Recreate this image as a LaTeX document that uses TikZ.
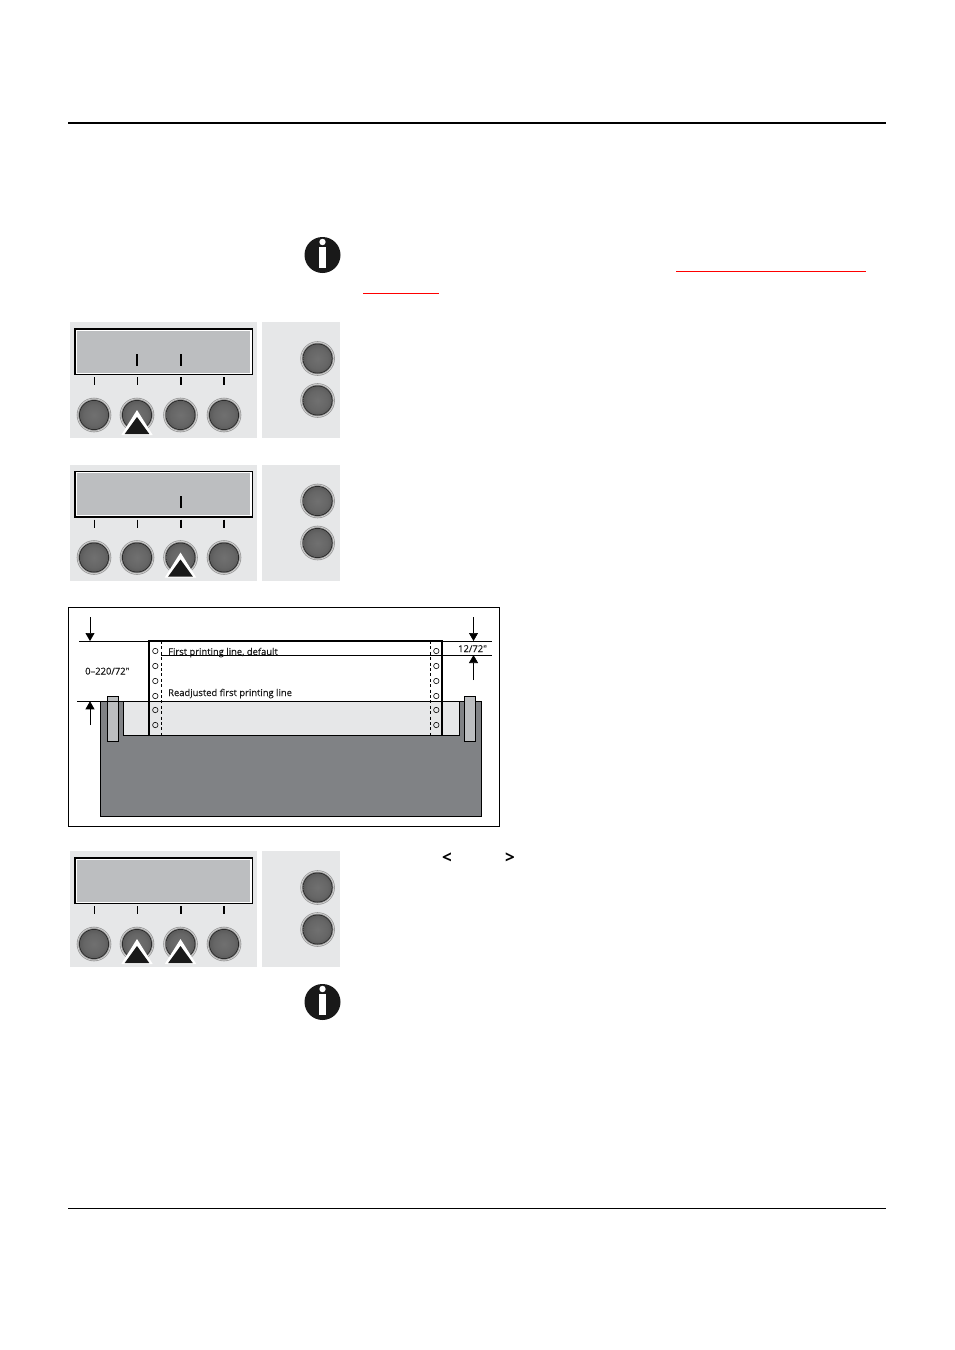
\documentclass[tikz,border=0pt]{standalone}
\usepackage{fontspec}
\setmainfont{Open Sans}
\newfontface\figfont[FakeBold=0.25]{Open Sans}
\usetikzlibrary{arrows.meta}
\definecolor{panelbg}{HTML}{E6E7E8}
\definecolor{lcdgray}{HTML}{BCBEC0}
\definecolor{bodygray}{HTML}{808285}
\definecolor{clampgray}{HTML}{BCBEC0}
\tikzset{
  x=1pt,y=-1pt,
  panelbox/.style={fill=panelbg,draw=none},
  dimarrow/.style={-{Triangle[length=8pt,width=9pt]},line width=0.7pt},
  thinline/.style={line width=0.7pt},
  paperedge/.style={line width=1.4pt},
  difftext/.style={font=\figfont\fontsize{9.4}{11}\selectfont,inner sep=0pt,anchor=base west,text=black!90},
}
\pgfdeclareradialshading{keyface}{\pgfpoint{0pt}{0pt}}{
  color(0bp)=(black!56); color(18bp)=(black!60); color(32bp)=(black!68); color(43bp)=(black!78); color(50bp)=(black!88)}
\newcommand{\keybtn}[2]{%
  \fill[black!40] (#1,#2) circle (17.3);
  \draw[black!12,line width=0.5pt] (#1,#2) circle (16.2);
  \fill[black!85] (#1,#2) circle (15);
  \shade[shading=keyface] (#1,#2) circle (14.2);
}
\newcommand{\pointer}[2]{%
  \fill[white] (#1,#2-24) -- (#1+15.7,#2+1) -- (#1-15.7,#2+1) -- cycle;
  \fill[black!90] (#1,#2-17) -- (#1+12.3,#2) -- (#1-12.3,#2) -- cycle;
}
\newcommand{\panel}[1]{%
  \fill[panelbox] (70,#1) rectangle (257,#1+116);
  \fill[panelbox] (262,#1) rectangle (340,#1+116);
  \fill[black] (74,#1+6) rectangle (252.7,#1+53);
  \fill[white] (75.5,#1+7.5) rectangle (251.7,#1+51.5);
  \fill[lcdgray] (76.5,#1+8.5) rectangle (250,#1+50.5);
  \draw[line width=0.7pt] (94,#1+55) -- (94,#1+63);
  \draw[line width=0.7pt] (137,#1+55) -- (137,#1+63);
  \draw[line width=1.2pt] (181,#1+55) -- (181,#1+63);
  \draw[line width=1.2pt] (224,#1+55) -- (224,#1+63);
  \keybtn{94}{#1+93}\keybtn{137}{#1+93}\keybtn{180.5}{#1+93}\keybtn{224}{#1+93}
  \keybtn{317.6}{#1+36.5}\keybtn{317.6}{#1+78.5}
}
\newcommand{\infoicon}[1]{%
  \fill[black!90] (322.5,#1) circle (18);
  \fill[white] (319.4,#1-8) rectangle (325.6,#1+13);
  \fill[white] (322.5,#1-13) circle (3.2);
}
\begin{document}
\begin{tikzpicture}
\useasboundingbox (0,0) rectangle (954,1350);
\fill[white] (0,0) rectangle (954,1350);

% page rules
\coordinate (topL) at (68,123); \coordinate (topR) at (886,123);
\coordinate (botL) at (68,1208.5); \coordinate (botR) at (886,1208.5);
\draw[line width=1.7pt] (topL) -- (topR);
\draw[line width=0.8pt] (botL) -- (botR);

% note icons and link underlines
\infoicon{255}
\infoicon{1002}
\coordinate (uA) at (676,271); \coordinate (uB) at (866,271);
\coordinate (uC) at (363,293); \coordinate (uD) at (439,293);
\draw[red,line width=1pt] (uA) -- (uB);
\draw[red,line width=1pt] (uC) -- (uD);

% panel 1
\panel{322}
\draw[line width=1.2pt] (137,354) -- (137,366);
\draw[line width=1.2pt] (181,354) -- (181,366);
\pointer{137}{434}

% panel 2
\panel{464.5}
\draw[line width=1.2pt] (181,496) -- (181,508);
\pointer{180.5}{576.5}

% panel 3
\panel{851}
\pointer{137}{963}
\pointer{180.5}{963}

% figure frame
\draw[line width=0.8pt] (68.3,607.3) rectangle (499.3,826.6);
\fill[bodygray] (100.3,701.3) rectangle (481.3,816.3);
\draw[line width=0.7pt] (100.3,701.3) rectangle (481.3,816.3);
\fill[panelbg] (123.3,701.3) rectangle (459.3,735.3);
\draw[line width=0.7pt] (123.3,701.3) rectangle (459.3,735.3);
\fill[white] (149,641) rectangle (442,701.3);
\fill[clampgray,draw=black,line width=0.7pt] (107.3,696.3) rectangle (118.7,741.3);
\fill[clampgray,draw=black,line width=0.7pt] (464.3,696.3) rectangle (475.3,741.3);

% horizontal reference lines
\coordinate (l1a) at (79,641); \coordinate (l1b) at (492,641);
\coordinate (l2a) at (161,655); \coordinate (l2b) at (492,655);
\coordinate (l3a) at (77,701.3); \coordinate (l3b) at (459.3,701.3);
\draw[thinline] (l1a) -- (l1b);
\draw[thinline] (l2a) -- (l2b);
\draw[thinline] (l3a) -- (l3b);

% paper
\draw[paperedge] (149,735.3) -- (149,641) -- (442,641) -- (442,735.3);
\draw[line width=0.7pt,dash pattern=on 3pt off 2.4pt] (161,641) -- (161,735.3);
\draw[line width=0.7pt,dash pattern=on 3pt off 2.4pt] (430.5,641) -- (430.5,735.3);
\foreach \yy in {651,666,681,696,710,725}{
  \draw[line width=0.6pt] (155.3,\yy) circle (2.7);
  \draw[line width=0.6pt] (436.3,\yy) circle (2.7);
}

% dimension arrows
\coordinate (aS) at (90,617); \coordinate (aE) at (90,641);
\coordinate (bS) at (90,725); \coordinate (bE) at (90,701.3);
\coordinate (cS) at (473.5,617); \coordinate (cE) at (473.5,641);
\coordinate (dS) at (473.5,680); \coordinate (dE) at (473.5,655);
\draw[dimarrow] (aS) -- (aE);
\draw[dimarrow] (bS) -- (bE);
\draw[dimarrow] (cS) -- (cE);
\draw[dimarrow] (dS) -- (dE);

% figure texts
\node[difftext] (t1) at (168,655) {First printing line, default};
\node[difftext] (t2) at (168,696) {Readjusted first printing line};
\node[difftext] (t3) at (85,674.5) {0–220/72"};
\node[difftext] (t4) at (458,652) {12/72"};

% key glyphs
\node[font=\bfseries\fontsize{17}{19}\selectfont,inner sep=0pt] (lt) at (447,858) {<};
\node[font=\bfseries\fontsize{17}{19}\selectfont,inner sep=0pt] (gt) at (510,858) {>};
\end{tikzpicture}
\end{document}
